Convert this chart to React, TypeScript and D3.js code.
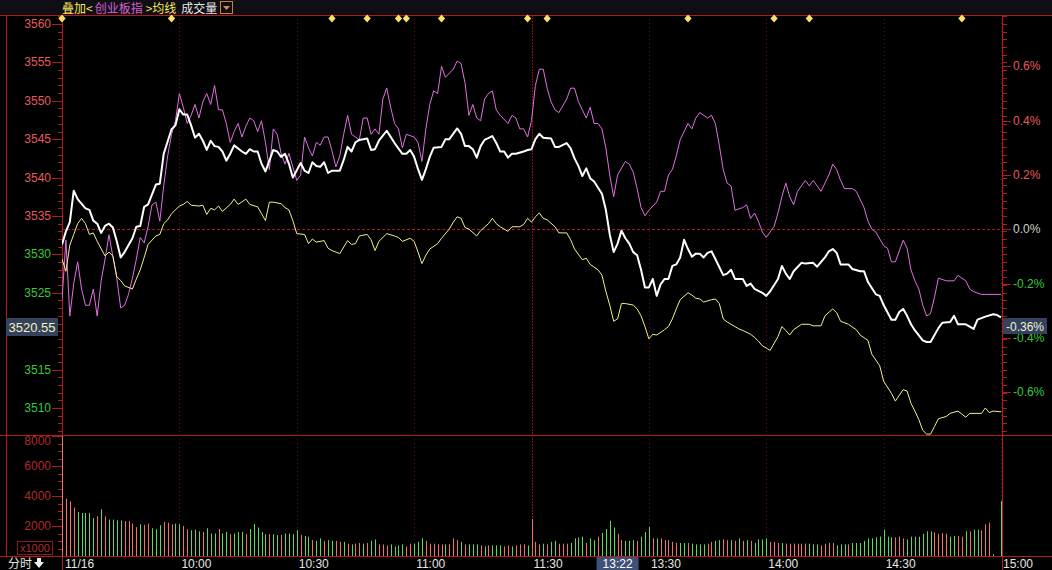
import React from "react"
import * as d3 from "d3"

// previous close of the index, and the value shown in the left / right tags
const prevClose = 3533.27
const lastPrice = 3520.55
const lastPct = -0.36

const priceTicks = [3560, 3555, 3550, 3545, 3540, 3535, 3530, 3525, 3515, 3510]
const pctTicks = [0.6, 0.4, 0.2, 0, -0.2, -0.4, -0.6]
const volTicks = [8000, 6000, 4000, 2000]
const timeTicks = ["10:00", "10:30", "11:00", "11:30", "13:30", "14:00", "14:30", "15:00"]
const dateLabel = "11/16"
const cursorTime = "13:22"
const markerTimes = ["09:30", "09:58", "10:39", "10:48", "10:56", "10:58", "11:07", "11:29", "13:04", "13:40", "14:02", "14:11", "14:50"]

// [trading minute since 09:30, index value]  (white line)
const indexLine: [number, number][] = [
  [0, 3531.3], [1, 3533.0], [2, 3534.2], [3, 3538.3], [4, 3537.2], [6, 3536.0], [7, 3535.8], [8, 3534.4], [9, 3534.0], [10, 3532.8],
  [11, 3533.7], [12, 3534.0], [13, 3533.5], [14, 3531.7], [15, 3529.6], [16, 3530.3], [18, 3532.1], [19, 3533.6], [20, 3533.7], [21, 3536.2],
  [22, 3536.5], [24, 3539.1], [25, 3539.2], [26, 3543.1], [28, 3546.3], [29, 3546.8], [30, 3548.9], [31, 3548.2], [32, 3548.2], [33, 3546.8],
  [34, 3545.2], [35, 3545.7], [36, 3544.8], [37, 3543.6], [38, 3544.8], [39, 3544.1], [40, 3544.0], [41, 3543.4], [42, 3542.2], [43, 3543.1],
  [44, 3544.2], [46, 3543.4], [47, 3543.1], [48, 3543.7], [49, 3543.4], [50, 3543.4], [51, 3541.8], [52, 3540.8], [53, 3542.2], [54, 3543.6],
  [55, 3543.4], [56, 3542.7], [57, 3543.1], [58, 3541.8], [59, 3540.0], [61, 3541.9], [62, 3540.9], [63, 3540.6], [64, 3542.0], [65, 3541.5],
  [66, 3541.4], [67, 3542.0], [68, 3540.6], [69, 3540.9], [71, 3540.9], [72, 3542.3], [73, 3544.0], [74, 3543.4], [75, 3544.6], [76, 3544.9],
  [78, 3545.1], [79, 3543.6], [80, 3543.7], [81, 3544.8], [83, 3546.1], [84, 3545.3], [85, 3544.5], [87, 3543.1], [88, 3543.1], [89, 3543.6],
  [90, 3542.7], [91, 3541.1], [92, 3539.7], [93, 3541.1], [94, 3542.7], [95, 3543.9], [97, 3544.0], [98, 3545.0], [99, 3545.0], [101, 3546.4],
  [102, 3545.7], [103, 3544.1], [104, 3544.1], [105, 3543.7], [106, 3542.6], [107, 3544.1], [108, 3544.9], [110, 3545.4], [111, 3544.5], [112, 3543.4],
  [113, 3543.4], [114, 3542.6], [115, 3543.1], [116, 3543.1], [118, 3543.4], [119, 3543.6], [120, 3543.7], [121, 3545.0], [122, 3545.7], [123, 3545.2],
  [125, 3545.1], [126, 3544.0], [127, 3544.0], [129, 3544.5], [130, 3543.8], [131, 3542.5], [132, 3541.5], [133, 3540.2], [134, 3541.2], [135, 3539.9],
  [136, 3539.5], [138, 3537.9], [139, 3535.8], [140, 3532.6], [141, 3530.3], [142, 3531.4], [143, 3533.1], [144, 3532.1], [145, 3531.4], [146, 3530.3],
  [147, 3529.9], [148, 3528.0], [149, 3525.7], [150, 3525.7], [151, 3526.8], [152, 3524.6], [153, 3526.1], [154, 3526.8], [155, 3526.8], [156, 3528.5],
  [157, 3528.7], [158, 3529.6], [159, 3531.9], [160, 3530.7], [161, 3529.7], [162, 3530.1], [163, 3530.1], [164, 3529.6], [165, 3530.2], [166, 3530.4],
  [167, 3529.4], [169, 3527.3], [170, 3527.5], [171, 3528.0], [172, 3526.8], [174, 3526.8], [175, 3525.9], [176, 3526.2], [177, 3525.5], [179, 3525.0],
  [180, 3524.6], [181, 3525.2], [183, 3526.8], [184, 3528.5], [185, 3527.5], [186, 3526.8], [187, 3527.8], [189, 3528.9], [190, 3528.8], [192, 3528.9],
  [193, 3528.4], [195, 3529.6], [196, 3530.4], [197, 3530.7], [198, 3530.2], [199, 3528.7], [201, 3528.7], [202, 3528.1], [204, 3527.8], [205, 3527.8],
  [206, 3526.4], [208, 3524.8], [209, 3524.6], [210, 3523.4], [212, 3521.5], [213, 3521.5], [214, 3522.5], [215, 3522.9], [216, 3522.0], [217, 3520.9],
  [218, 3520.1], [220, 3518.8], [221, 3518.6], [222, 3518.6], [224, 3520.4], [225, 3521.1], [227, 3521.2], [228, 3522.0], [229, 3520.9], [231, 3520.9],
  [233, 3520.3], [234, 3521.5], [236, 3521.9], [238, 3522.2], [239, 3522.1], [240, 3521.8],
]

// [trading minute, value]  (yellow line)
const avgLine: [number, number][] = [
  [0, 3529.4], [1, 3527.8], [2, 3531.2], [3, 3532.6], [4, 3534.0], [5, 3534.7], [6, 3534.0], [7, 3532.6], [8, 3532.8], [9, 3531.7],
  [11, 3529.8], [12, 3530.3], [13, 3529.8], [14, 3527.1], [15, 3526.6], [16, 3525.9], [18, 3525.5], [19, 3526.8], [20, 3528.0], [21, 3529.6],
  [22, 3531.3], [24, 3532.4], [25, 3532.6], [26, 3534.0], [27, 3534.5], [28, 3535.3], [30, 3536.3], [31, 3536.5], [32, 3536.9], [33, 3536.4],
  [35, 3536.3], [36, 3536.4], [37, 3535.2], [38, 3536.0], [39, 3535.8], [40, 3536.3], [41, 3535.6], [43, 3536.5], [44, 3537.2], [45, 3536.5],
  [47, 3537.2], [48, 3536.5], [50, 3536.2], [51, 3535.3], [52, 3534.4], [53, 3536.8], [54, 3536.8], [56, 3536.6], [57, 3536.1], [58, 3535.8],
  [59, 3534.4], [60, 3532.7], [62, 3532.6], [63, 3531.4], [64, 3532.0], [65, 3531.6], [67, 3531.8], [68, 3530.8], [69, 3530.5], [71, 3530.1],
  [73, 3531.8], [74, 3531.3], [75, 3531.4], [76, 3532.4], [78, 3532.6], [79, 3531.9], [80, 3530.5], [81, 3531.7], [83, 3532.7], [85, 3532.4],
  [86, 3532.2], [87, 3531.7], [89, 3532.1], [90, 3531.7], [91, 3530.3], [92, 3528.8], [93, 3529.9], [94, 3530.7], [96, 3531.4], [97, 3532.1],
  [99, 3533.3], [100, 3534.2], [101, 3534.9], [102, 3534.7], [103, 3533.5], [104, 3533.3], [106, 3532.4], [107, 3533.1], [109, 3534.0], [110, 3534.7],
  [111, 3534.0], [112, 3533.6], [114, 3533.0], [115, 3533.6], [117, 3533.6], [118, 3533.9], [119, 3534.7], [120, 3534.2], [121, 3534.9], [122, 3535.4],
  [123, 3534.7], [124, 3534.5], [126, 3533.6], [127, 3532.8], [129, 3532.8], [130, 3531.9], [131, 3530.7], [133, 3529.3], [134, 3529.5], [135, 3528.7],
  [137, 3528.0], [138, 3527.3], [139, 3525.2], [140, 3523.4], [141, 3521.3], [142, 3521.6], [143, 3523.6], [144, 3523.6], [146, 3523.4], [147, 3522.9],
  [148, 3522.0], [149, 3520.6], [150, 3519.0], [151, 3519.6], [152, 3519.5], [154, 3520.2], [155, 3520.6], [156, 3521.6], [157, 3522.9], [158, 3524.1],
  [160, 3525.0], [161, 3524.7], [162, 3524.3], [163, 3524.2], [164, 3523.8], [166, 3524.1], [167, 3524.2], [168, 3523.6], [169, 3521.6], [170, 3521.2],
  [172, 3520.6], [173, 3520.3], [174, 3520.1], [176, 3519.6], [177, 3519.2], [178, 3518.7], [179, 3518.1], [180, 3517.8], [181, 3517.5], [183, 3519.3],
  [184, 3520.6], [185, 3520.1], [186, 3519.5], [187, 3520.2], [189, 3520.9], [191, 3520.9], [192, 3520.7], [194, 3520.7], [195, 3522.0], [197, 3522.9],
  [198, 3522.4], [199, 3521.3], [201, 3520.9], [203, 3520.2], [204, 3519.5], [206, 3518.8], [207, 3517.0], [209, 3515.5], [210, 3513.5], [212, 3511.9],
  [213, 3510.9], [215, 3512.4], [216, 3512.2], [217, 3510.6], [218, 3509.6], [219, 3508.5], [220, 3507.1], [221, 3506.6], [222, 3506.6], [223, 3507.6],
  [224, 3508.6], [226, 3508.9], [227, 3509.3], [229, 3509.6], [231, 3508.8], [232, 3509.3], [235, 3509.3], [236, 3510.0], [237, 3509.4], [238, 3509.6],
  [240, 3509.5],
]

// [trading minute, % change]  (overlay: 创业板指, magenta)
const chinextPct: [number, number][] = [
  [0, -0.26], [1, -0.04], [2, -0.32], [3, -0.2], [4, -0.12], [5, -0.22], [6, -0.28], [7, -0.28], [8, -0.22], [9, -0.32],
  [10, -0.19], [11, -0.11], [12, -0.02], [13, -0.1], [14, -0.18], [15, -0.29], [16, -0.28], [17, -0.24], [18, -0.18], [19, -0.11],
  [20, -0.03], [21, -0.05], [22, 0.01], [23, 0.09], [24, 0.1], [25, 0.03], [26, 0.16], [27, 0.27], [28, 0.35], [29, 0.4],
  [30, 0.5], [31, 0.45], [32, 0.39], [33, 0.42], [34, 0.46], [35, 0.41], [36, 0.47], [37, 0.5], [38, 0.46], [39, 0.53],
  [40, 0.44], [41, 0.44], [42, 0.39], [43, 0.32], [44, 0.36], [45, 0.39], [46, 0.34], [47, 0.38], [48, 0.41], [49, 0.4],
  [50, 0.36], [51, 0.4], [52, 0.32], [53, 0.22], [54, 0.37], [55, 0.35], [56, 0.28], [57, 0.24], [58, 0.28], [59, 0.23],
  [60, 0.18], [61, 0.2], [62, 0.34], [63, 0.3], [64, 0.27], [65, 0.32], [66, 0.31], [67, 0.34], [68, 0.34], [69, 0.29],
  [70, 0.23], [71, 0.27], [72, 0.35], [73, 0.42], [74, 0.35], [76, 0.33], [77, 0.41], [78, 0.41], [79, 0.35], [80, 0.37],
  [81, 0.35], [82, 0.48], [83, 0.52], [84, 0.45], [85, 0.39], [86, 0.37], [87, 0.3], [88, 0.35], [90, 0.34], [91, 0.32],
  [92, 0.25], [93, 0.37], [94, 0.46], [95, 0.51], [96, 0.5], [97, 0.6], [98, 0.56], [100, 0.59], [101, 0.62], [102, 0.61],
  [103, 0.54], [104, 0.42], [105, 0.46], [106, 0.41], [107, 0.4], [108, 0.48], [109, 0.5], [110, 0.51], [111, 0.44], [112, 0.42],
  [114, 0.39], [115, 0.42], [116, 0.41], [117, 0.37], [118, 0.37], [119, 0.34], [120, 0.4], [121, 0.53], [122, 0.59], [123, 0.59],
  [124, 0.52], [125, 0.47], [126, 0.44], [127, 0.43], [129, 0.48], [130, 0.52], [131, 0.52], [132, 0.47], [133, 0.44], [134, 0.41],
  [135, 0.45], [136, 0.39], [137, 0.39], [138, 0.37], [139, 0.3], [140, 0.2], [141, 0.12], [142, 0.2], [144, 0.25], [145, 0.24],
  [146, 0.21], [147, 0.15], [148, 0.08], [149, 0.05], [150, 0.07], [152, 0.1], [153, 0.14], [154, 0.14], [155, 0.2], [156, 0.22],
  [157, 0.27], [158, 0.33], [160, 0.39], [161, 0.37], [162, 0.41], [163, 0.43], [165, 0.41], [166, 0.42], [167, 0.39], [168, 0.31],
  [169, 0.22], [170, 0.17], [171, 0.16], [172, 0.07], [174, 0.08], [175, 0.09], [176, 0.04], [177, 0.06], [178, 0.03], [179, -0.01],
  [180, -0.03], [182, 0.01], [183, 0.06], [184, 0.12], [185, 0.17], [186, 0.12], [187, 0.09], [188, 0.14], [190, 0.18], [191, 0.16],
  [192, 0.18], [193, 0.16], [194, 0.14], [196, 0.2], [197, 0.24], [198, 0.22], [199, 0.18], [200, 0.15], [202, 0.15], [203, 0.14],
  [205, 0.08], [206, 0.03], [207, 0.0], [208, -0.01], [210, -0.06], [211, -0.07], [212, -0.12], [213, -0.12], [215, -0.04], [216, -0.07],
  [217, -0.15], [218, -0.19], [219, -0.22], [220, -0.28], [221, -0.32], [222, -0.31], [223, -0.25], [224, -0.18], [226, -0.19], [227, -0.19],
  [228, -0.19], [229, -0.17], [231, -0.19], [232, -0.22], [233, -0.23], [235, -0.24], [236, -0.24], [238, -0.24], [239, -0.24], [240, -0.24],
]

// volume per minute (x1000 shares), minute 0..240
const volumes = [
  9000, 3830, 3650, 3230, 2930, 2870, 2870, 2870, 2530, 2650,
  3110, 2650, 2430, 2430, 2380, 2380, 2330, 2330, 2160, 1930,
  2110, 2070, 2160, 1850, 1780, 2050, 2270, 2220, 2110, 2160,
  2110, 2000, 1780, 1710, 1760, 1650, 1600, 1850, 1500, 1500,
  1800, 1500, 1600, 1450, 1500, 1600, 1600, 1450, 1800, 2150,
  1900, 1600, 1450, 1450, 1450, 1400, 1400, 1500, 1500, 1450,
  1715, 1410, 1340, 1290, 1060, 1010, 1175, 1010, 1060, 1010,
  1010, 940, 940, 820, 775, 820, 870, 820, 870, 1010,
  1105, 775, 775, 705, 775, 635, 705, 775, 635, 820,
  820, 940, 1175, 1010, 820, 820, 775, 775, 775, 775,
  1175, 1060, 940, 775, 775, 775, 775, 705, 635, 705,
  705, 705, 705, 635, 705, 635, 705, 775, 775, 705,
  2470, 940, 775, 820, 775, 940, 1010, 820, 820, 820,
  870, 1175, 1245, 1290, 870, 1175, 1060, 1290, 1530, 1800,
  2350, 1900, 1480, 1060, 1010, 1010, 1060, 1010, 1290, 1600,
  1950, 1175, 1175, 1175, 1060, 1060, 940, 870, 870, 870,
  870, 820, 775, 775, 775, 820, 940, 1010, 1060, 1105,
  1060, 1060, 1010, 1175, 1010, 1060, 1010, 870, 1105, 1105,
  1175, 940, 940, 870, 870, 820, 820, 820, 820, 820,
  820, 820, 775, 775, 705, 820, 870, 870, 705, 775,
  775, 775, 870, 870, 870, 1010, 1175, 1175, 1245, 1290,
  1760, 1290, 1245, 1245, 1290, 1175, 1105, 1290, 1290, 1290,
  1480, 1645, 1645, 1575, 1480, 1530, 1480, 1290, 1340, 1340,
  1290, 1645, 1645, 1760, 1760, 1715, 2115, 2230, 120, 0,
  3670,
]
// r = up minute (red bar), g = down minute (green bar)
const volumeSide = [
  "rrrrgggggr", "grggggrrrr", "grrgggrrrg", "grrgggrggg", "rggrgggrgg", "gggrggrggg",
  "grggrggrgg", "rrgrgrrgrg", "grrrggggrr", "gggrrrrrgr", "rrgrgggrgr", "gggrrgrrrg",
  "rrrgrggrrr", "ggggrggrgg", "ggrrgggrgg", "grgrrrrrgg", "rggggrrggr", "rgrgrgrggg",
  "grrrgrrrrr", "rgggrrrrgg", "grgggggggg", "gggrrrgggg", "gggrrrrggr", "rgrggrrrgg",
  "g",
].join("")

const toMinute = (t: string) => {
  const [h, m] = t.split(":").map(Number)
  const mins = h * 60 + m
  return mins <= 690 ? mins - 570 : mins - 780 + 120
}

const NUM_FONT = "'Liberation Sans', Arial, sans-serif"
const CJK_FONT = "'Noto Sans CJK SC', 'Noto Sans', sans-serif"
const AXIS_RED = "#b01c1c"
const UP = "#e85a5a"
const DOWN = "#3cc83c"

export default function App() {
  const W = 1052, H = 570
  const left = 62, right = 1001
  const mainTop = 15, mainBottom = 435, volBottom = 556

  const x = d3.scaleLinear().domain([0, 240]).range([left, right])
  const y = d3.scaleLinear().domain([3510, 3560]).range([408, 24])
  const yPct = (p: number) => y(prevClose * (1 + p / 100))
  const yVol = d3.scaleLinear().domain([0, 8000]).range([volBottom, mainBottom + 1]).clamp(true)

  const priceLine = d3.line<[number, number]>().x(d => x(d[0])).y(d => y(d[1]))
  const pctLine = d3.line<[number, number]>().x(d => x(d[0])).y(d => yPct(d[1]))

  const minorPrice = d3.range(3506, 3562).filter(p => y(p) > mainTop + 1 && y(p) < mainBottom - 1)
  const minorVol = d3.range(0, 8001, 500)
  const cursorX = x(toMinute(cursorTime))

  return (
    <>
      <style>{`body{margin:0;background:#000}`}</style>
      <svg width={W} height={H} style={{ display: "block", background: "#000" }}>
        <defs>
          <clipPath id="mainClip">
            <rect x={left} y={mainTop} width={right - left + 1} height={mainBottom - mainTop} />
          </clipPath>
        </defs>

        {/* header strip */}
        <rect x={0} y={0} width={W} height={mainTop} fill="#0e0e14" />
        <text x={62} y={12.5} fontSize={12} fontFamily={CJK_FONT}>
          <tspan fill="#f2e85a">叠加&lt;</tspan>
          <tspan fill="#d860d8" dx={2}>创业板指</tspan>
          <tspan fill="#f2e85a" dx={3}>&gt;均线</tspan>
          <tspan fill="#e8e8e8" dx={5}>成交量</tspan>
        </text>
        <rect x={220.5} y={1.5} width={12} height={12} fill="none" stroke="#c8803c" />
        <path d="M223,6 L230,6 L226.5,10 Z" fill="#d89050" />

        {/* time grid */}
        {timeTicks.map(t => {
          const gx = Math.round(x(toMinute(t))) + 0.5
          const solid = t === "11:30"
          return (
            <line key={t} x1={gx} x2={gx} y1={mainTop} y2={volBottom}
              stroke={solid ? "#8a1414" : "#6a1212"} strokeDasharray={solid ? "2,1" : "1,3"} />
          )
        })}

        {/* previous-close line */}
        <line x1={left} x2={right} y1={Math.round(yPct(0)) + 0.5} y2={Math.round(yPct(0)) + 0.5}
          stroke="#a81c1c" strokeDasharray="3,2" />

        {/* frame */}
        <line x1={0} x2={W} y1={mainTop + 0.5} y2={mainTop + 0.5} stroke={AXIS_RED} />
        <line x1={0} x2={W} y1={mainBottom + 0.5} y2={mainBottom + 0.5} stroke={AXIS_RED} />
        <line x1={0} x2={W} y1={volBottom + 0.5} y2={volBottom + 0.5} stroke={AXIS_RED} />
        <line x1={6.5} x2={6.5} y1={mainTop} y2={volBottom} stroke={AXIS_RED} />
        <line x1={left + 0.5} x2={left + 0.5} y1={mainTop} y2={H} stroke={AXIS_RED} />
        <line x1={1002.5} x2={1002.5} y1={mainTop} y2={H} stroke={AXIS_RED} />

        {/* left price axis */}
        {minorPrice.map(p => (
          <line key={"lm" + p} x1={p % 5 === 0 ? 52 : 58} x2={62} y1={Math.round(y(p)) + 0.5} y2={Math.round(y(p)) + 0.5} stroke={AXIS_RED} />
        ))}
        {priceTicks.map(p => (
          <text key={"lp" + p} x={51} y={y(p) + 4} textAnchor="end" fontSize={12} fontFamily={NUM_FONT}
            fill={p > prevClose ? UP : DOWN}>{p}</text>
        ))}

        {/* right percent axis */}
        {minorPrice.map(p => (
          <line key={"rm" + p} x1={1003} x2={1007} y1={Math.round(y(p)) + 0.5} y2={Math.round(y(p)) + 0.5} stroke={AXIS_RED} />
        ))}
        {pctTicks.map(p => (
          <g key={"rp" + p}>
            <line x1={1003} x2={1011} y1={Math.round(yPct(p)) + 0.5} y2={Math.round(yPct(p)) + 0.5} stroke={AXIS_RED} />
            <text x={1013} y={yPct(p) + 4} fontSize={12} fontFamily={NUM_FONT}
              fill={p > 0 ? UP : p < 0 ? DOWN : "#d0d0d0"}>{p.toFixed(1)}%</text>
          </g>
        ))}

        {/* event markers */}
        {markerTimes.map(t => (
          <path key={"mk" + t} transform={`translate(${x(toMinute(t))},18.5)`} d="M0,-4L3.6,0L0,4L-3.6,0Z" fill="#ffe066" />
        ))}

        {/* lines */}
        <g clipPath="url(#mainClip)" fill="none" strokeLinejoin="round">
          <path d={pctLine(chinextPct) || ""} stroke="#e070e0" strokeWidth={1} />
          <path d={priceLine(avgLine) || ""} stroke="#f4f08c" strokeWidth={1} />
          <path d={priceLine(indexLine) || ""} stroke="#ffffff" strokeWidth={2} />
        </g>

        {/* volume axis */}
        {minorVol.map(v => (
          <line key={"vm" + v} x1={v % 2000 === 0 ? 52 : 58} x2={62} y1={Math.round(yVol(v)) + 0.5} y2={Math.round(yVol(v)) + 0.5} stroke={AXIS_RED} />
        ))}
        {volTicks.map(v => (
          <text key={"vt" + v} x={51} y={Math.max(yVol(v), 441) + 4} textAnchor="end" fontSize={12} fontFamily={NUM_FONT} fill="#b02a2a">{v}</text>
        ))}
        <rect x={17.5} y={541.5} width={35} height={13} fill="none" stroke="#8c1a1a" />
        <text x={20} y={552} fontSize={11} fontFamily={NUM_FONT} fill="#b02a2a">x1000</text>

        {/* volume bars */}
        {volumes.map((v, i) => v > 0 && (
          <rect key={"vb" + i} x={Math.round(x(i))} y={yVol(v)} width={1} height={volBottom - yVol(v)}
            fill={volumeSide[i] === "r" ? "#f07070" : "#5ada5a"} />
        ))}

        {/* last value tags */}
        <rect x={6} y={318} width={52} height={18} fill="#35425e" />
        <text x={32} y={331.5} textAnchor="middle" fontSize={13} fontFamily={NUM_FONT} fill="#eef4b4">{lastPrice.toFixed(2)}</text>
        <rect x={1003} y={318} width={44} height={16} fill="#35425e" />
        <text x={1025} y={330.5} textAnchor="middle" fontSize={12} fontFamily={NUM_FONT} fill="#eef0d0">{lastPct.toFixed(2)}%</text>

        {/* bottom axis */}
        <text x={8} y={568} fontSize={12} fontFamily={CJK_FONT} fill="#e6e6e6">分时</text>
        <path d="M37,558 L41,558 L41,562 L44,562 L39,568 L34,562 L37,562 Z" fill="#f0f0f0" />
        <text x={65} y={568} fontSize={12} fontFamily={NUM_FONT} fill="#e6e6e6">{dateLabel}</text>
        {timeTicks.map(t => (
          <text key={"tl" + t} x={x(toMinute(t)) + 2} y={568} fontSize={12} fontFamily={NUM_FONT} fill="#e6e6e6">{t}</text>
        ))}
        <rect x={cursorX - 21} y={557} width={42} height={13} fill="#3e5278" />
        <text x={cursorX} y={568} textAnchor="middle" fontSize={12} fontFamily={NUM_FONT} fill="#ffffff">{cursorTime}</text>
      </svg>
    </>
  )
}
